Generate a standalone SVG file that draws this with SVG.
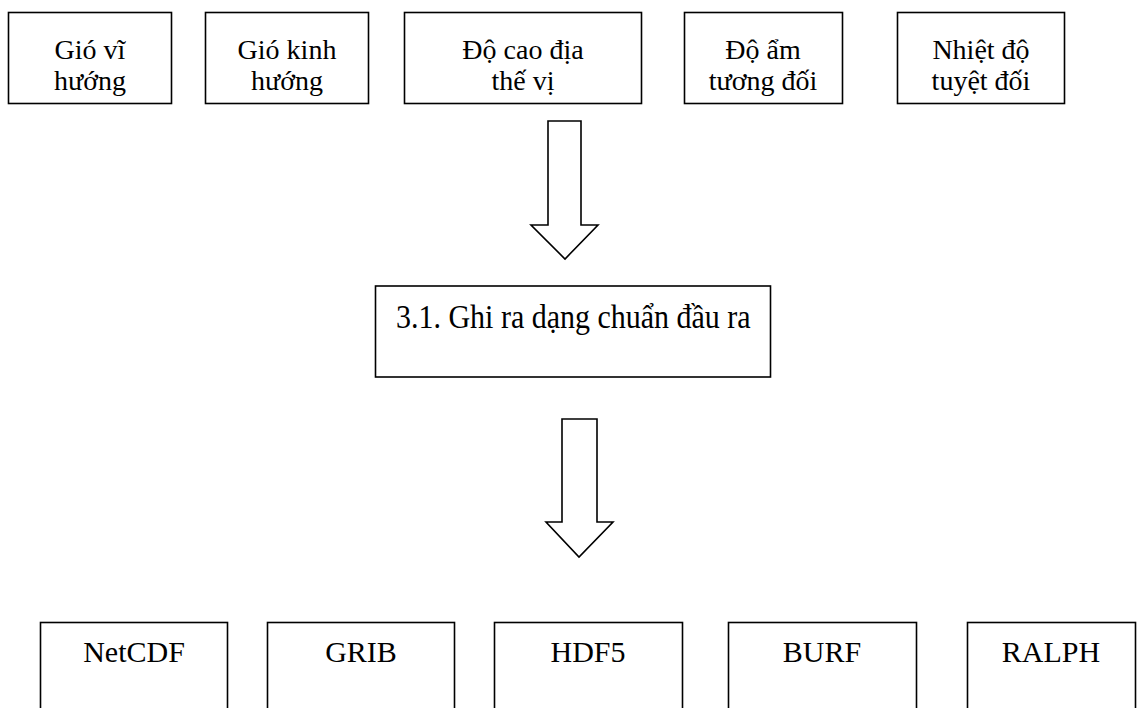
<svg xmlns="http://www.w3.org/2000/svg" width="1144" height="708" viewBox="0 0 1144 708">
<style>
.box{fill:#fff;stroke:#000;stroke-width:1.6}
.arr{fill:#fff;stroke:#000;stroke-width:1.6;stroke-linejoin:miter}
.t{font-family:"Liberation Serif","Times New Roman",serif;font-size:28px;fill:#000;text-anchor:middle}
.tm{font-family:"Liberation Serif","Times New Roman",serif;font-size:30px;fill:#000}
.tb{font-family:"Liberation Serif","Times New Roman",serif;font-size:30px;fill:#000;text-anchor:middle}
</style>
<rect width="1144" height="708" fill="#fff"/>
<g id="n1"><rect class="box" x="8.5" y="12.5" width="163" height="91"/><text class="t" x="90" y="59">Gió vĩ</text><text class="t" x="90" y="90">hướng</text></g>
<g id="n2"><rect class="box" x="205.5" y="12.5" width="163" height="91"/><text class="t" x="287" y="59">Gió kinh</text><text class="t" x="287" y="90">hướng</text></g>
<g id="n3"><rect class="box" x="404.5" y="12.5" width="237" height="91"/><text class="t" x="523" y="59">Độ cao địa</text><text class="t" x="523" y="90">thế vị</text></g>
<g id="n4"><rect class="box" x="684.5" y="12.5" width="158" height="91"/><text class="t" x="763" y="59">Độ ẩm</text><text class="t" x="763" y="90">tương đối</text></g>
<g id="n5"><rect class="box" x="897.5" y="12.5" width="167" height="91"/><text class="t" x="981" y="59">Nhiệt độ</text><text class="t" x="981" y="90">tuyệt đối</text></g>
<g id="n6"><rect class="box" x="375.5" y="286" width="395" height="91"/><text class="tm" transform="translate(396,328) scale(1,1.1)">3.1. Ghi ra dạng chuẩn đầu ra</text></g>
<g id="n7"><rect class="box" x="40.5" y="622.5" width="187" height="100"/><text class="tb" x="134" y="662">NetCDF</text></g>
<g id="n8"><rect class="box" x="267.5" y="622.5" width="187" height="100"/><text class="tb" x="361" y="662">GRIB</text></g>
<g id="n9"><rect class="box" x="494.5" y="622.5" width="188" height="100"/><text class="tb" x="588" y="662">HDF5</text></g>
<g id="n10"><rect class="box" x="728.5" y="622.5" width="188" height="100"/><text class="tb" x="822" y="662">BURF</text></g>
<g id="n11"><rect class="box" x="967.5" y="622.5" width="168" height="100"/><text class="tb" x="1051" y="662">RALPH</text></g>
<g id="connectors">
<polygon class="arr" points="548,121 581,121 581,225 598,225 565,259 531,225 548,225"/>
<polygon class="arr" points="562,419 597,419 597,522 613,522 579,557 546,522 562,522"/>
</g>
</svg>
